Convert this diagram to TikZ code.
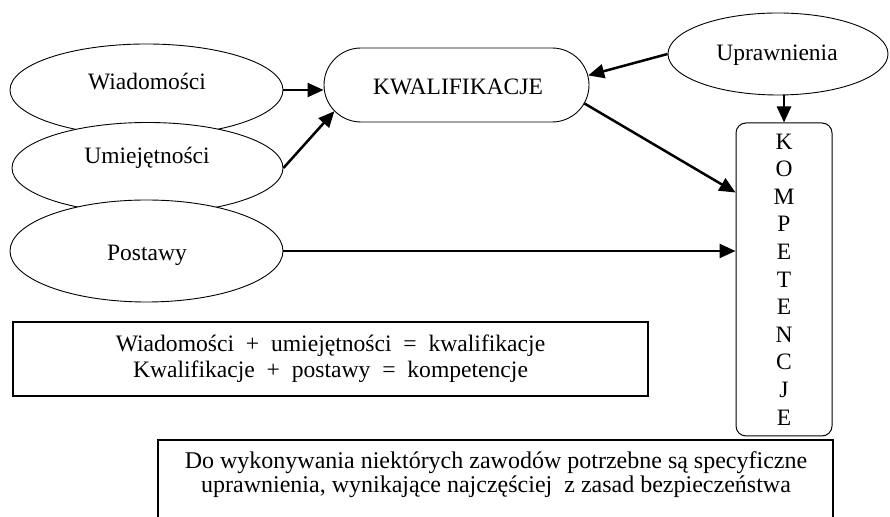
\documentclass[tikz,border=0pt]{standalone}
\usepackage{fontspec}
\setmainfont{Liberation Serif}
\usetikzlibrary{arrows.meta,shapes.geometric,shapes.misc,calc}
\begin{document}
\begin{tikzpicture}[x=1pt,y=1pt,
  every node/.style={font=\fontsize{23.5}{27.6}\selectfont},
  ell/.style={ellipse, draw, line width=0.9pt, fill=white, inner sep=0pt},
  lbl/.style={inner sep=0pt},
  arr/.style={line width=2.5pt, -{Triangle[length=16pt,width=14pt]}},
  boxline/.style={line width=1.1pt}
]
\clip (0,0) rectangle (890,516);
\fill[white] (0,0) rectangle (890,516);

% ellipses on the left
\node[ell, minimum width=273pt, minimum height=92pt] (wia) at (146.5,426) {};
\node[ell, minimum width=271pt, minimum height=91pt] (umi) at (147.5,348) {};
\node[ell, minimum width=273pt, minimum height=102pt] (pos) at (146.5,265) {};
\node[lbl] (wiat) at (147,434) {Wiadomości};
\node[lbl] (umit) at (147,358) {Umiejętności};
\node[lbl] (post) at (147,261) {Postawy};

% Uprawnienia
\node[ell, minimum width=220pt, minimum height=82pt] (upr) at (778,462) {};
\node[lbl] (uprt) at (777,461) {Uprawnienia};

% KWALIFIKACJE
\node[rounded rectangle, draw, line width=0.9pt, minimum width=265pt, minimum height=74pt, inner sep=0pt] (kwal) at (456.5,431) {};
\node[lbl] (kwalt) at (458,429) {KWALIFIKACJE};

% KOMPETENCJE
\node[draw, line width=1pt, rounded corners=10pt, minimum width=96pt, minimum height=313pt, inner sep=0pt, align=center] (komp) at (784,236.5)
  {K\\O\\M\\P\\E\\T\\E\\N\\C\\J\\E};

% equation box
\node[draw, boxline, minimum width=635pt, minimum height=74pt, inner sep=0pt, align=center,
  font=\fontsize{23.6}{26}\selectfont] (eq) at (330.5,157)
  {Wiadomości~~+~~umiejętności~~=~~kwalifikacje\\Kwalifikacje~~+~~postawy~~=~~kompetencje};

% bottom box (cut off by the lower edge)
\draw[boxline] (158,-10) |- (833,76) -- (833,-10);
\node[lbl, align=center, font=\fontsize{24}{24}\selectfont] (bot) at (496,41)
  {Do wykonywania niektórych zawodów potrzebne są specyficzne\\uprawnienia, wynikające najczęściej~~z zasad bezpieczeństwa};

% connectors
\coordinate (kA) at ($(kwal.west)+(37,0)+(225:37)$);
\coordinate (kB) at ($(kwal.east)+(-37,0)+(-30:37)$);
\coordinate (kC) at ($(kwal.east)+(-37,0)+(15:37)$);
\coordinate (cA) at ($(komp.north west)+(0,-70)$);
\draw[arr] (wia.east) -- (wia.east -| kwal.west);
\draw[arr] (umi.east) -- (kA);
\draw[arr] (pos.east) -- (pos.east -| komp.west);
\draw[arr] (kB) -- (cA);
\draw[arr] (upr.west) -- (kC);
\draw[arr] (komp.north |- upr.south) -- (komp.north);
\end{tikzpicture}
\end{document}
